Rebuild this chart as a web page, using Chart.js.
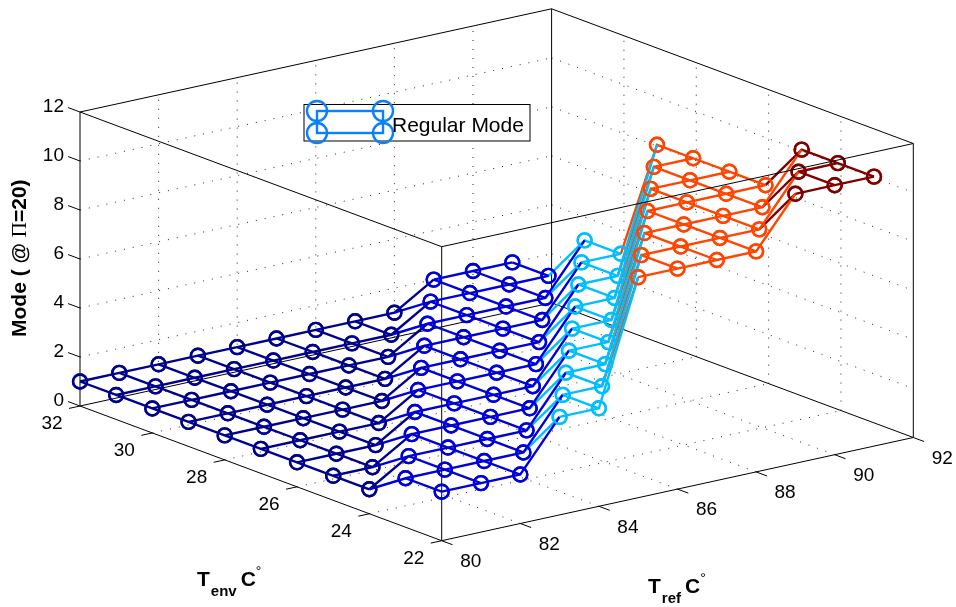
<!DOCTYPE html>
<html>
<head>
<meta charset="utf-8">
<title>Mode</title>
<script src="https://cdn.jsdelivr.net/npm/chart.js@4"></script>
<style>
body { margin: 0; background: #fff; }
canvas { display: block; }
</style>
</head>
<body>
<canvas id="surfaceChart" width="956" height="607"></canvas>
<script>
var trefValues = [80, 81, 82, 83, 84, 85, 86, 87, 88, 89, 90, 91];
var tenvValues = [22, 23, 24, 25, 26, 27, 28, 29, 30, 31, 32];
// one row per tenvValues entry, one column per trefValues entry
var modeRows = [
    [2, 2, 2, 4, 4, 9, 9, 9, 9, 11, 11, 11],
    [2, 2, 2, 2, 4, 4, 9, 9, 9, 9, 11, 11],
    [1, 2, 2, 2, 2, 4, 4, 9, 9, 9, 9, 11],
    [1, 1, 2, 2, 2, 2, 4, 4, 9, 9, 9, 9],
    [1, 1, 1, 2, 2, 2, 2, 4, 4, 9, 9, 9],
    [1, 1, 1, 1, 2, 2, 2, 2, 4, 4, 9, 9],
    [1, 1, 1, 1, 1, 2, 2, 2, 2, 4, 4, 9],
    [1, 1, 1, 1, 1, 1, 2, 2, 2, 2, 4, 4],
    [1, 1, 1, 1, 1, 1, 1, 2, 2, 2, 2, 4],
    [1, 1, 1, 1, 1, 1, 1, 1, 2, 2, 2, 2],
    [1, 1, 1, 1, 1, 1, 1, 1, 1, 2, 2, 2]
];
var trefTicks = [80, 82, 84, 86, 88, 90, 92];
var tenvTicks = [22, 24, 26, 28, 30, 32];
var modeTicks = [0, 2, 4, 6, 8, 10, 12];
var legendLabel = 'Regular Mode';

var modeColors = { 1: '#00008f', 2: '#0000d8', 4: '#00bfff', 9: '#ff4500', 11: '#800000' };
var FONT = '"Liberation Sans", Arial, sans-serif';

// fixed 3d view, same as the view of the original figure
function project(tref, tenv, mode) {
    return {
        x: 441.7 + (tref - 80) * 39.3 - (tenv - 22) * 36.17,
        y: 540.7 - (tref - 80) * 8.6 - (tenv - 22) * 13.47 - mode * 24.5
    };
}

var datasets = [];

function addLine(a, b, color, dash, order) {
    datasets.push({
        data: [project(a[0], a[1], a[2]), project(b[0], b[1], b[2])],
        showLine: true, borderColor: color, borderWidth: 1, borderDash: dash,
        pointRadius: 0, order: order, clip: false
    });
}

var DOTS = [1, 8];
var tref0 = trefTicks[0], tref1 = trefTicks[trefTicks.length - 1];
var tenv0 = tenvTicks[0], tenv1 = tenvTicks[tenvTicks.length - 1];
var mode1 = modeTicks[modeTicks.length - 1];

// dotted grid on floor and the two back walls
trefTicks.slice(1, -1).forEach(function (t) {
    addLine([t, tenv0, 0], [t, tenv1, 0], '#222', DOTS, 900);
    addLine([t, tenv1, 0], [t, tenv1, mode1], '#222', DOTS, 900);
});
tenvTicks.slice(1, -1).forEach(function (t) {
    addLine([tref0, t, 0], [tref1, t, 0], '#222', DOTS, 900);
    addLine([tref1, t, 0], [tref1, t, mode1], '#222', DOTS, 900);
});
modeTicks.slice(1, -1).forEach(function (m) {
    addLine([tref0, tenv1, m], [tref1, tenv1, m], '#222', DOTS, 900);
    addLine([tref1, tenv1, m], [tref1, tenv0, m], '#222', DOTS, 900);
});

// box edges, the two upper front ones go over the mesh
addLine([tref0, tenv0, 0], [tref1, tenv0, 0], '#000', [], 800);
addLine([tref0, tenv0, 0], [tref0, tenv1, 0], '#000', [], 800);
addLine([tref1, tenv1, 0], [tref1, tenv0, 0], '#000', [], 800);
addLine([tref1, tenv1, 0], [tref0, tenv1, 0], '#000', [], 800);
addLine([tref0, tenv1, 0], [tref0, tenv1, mode1], '#000', [], 800);
addLine([tref1, tenv1, 0], [tref1, tenv1, mode1], '#000', [], 800);
addLine([tref1, tenv0, 0], [tref1, tenv0, mode1], '#000', [], 800);
addLine([tref0, tenv0, 0], [tref0, tenv0, mode1], '#000', [], 800);
addLine([tref0, tenv1, mode1], [tref1, tenv1, mode1], '#000', [], 800);
addLine([tref1, tenv1, mode1], [tref1, tenv0, mode1], '#000', [], 800);
addLine([tref0, tenv0, mode1], [tref0, tenv1, mode1], '#000', [], 10);
addLine([tref0, tenv0, mode1], [tref1, tenv0, mode1], '#000', [], 10);

// tick marks
trefTicks.forEach(function (t) {
    addLine([t, tenv0, 0], [t, tenv0 - 0.3, 0], '#000', [], 800);
});
tenvTicks.forEach(function (t) {
    addLine([tref0, t, 0], [tref0 - 0.28, t, 0], '#000', [], 800);
});
modeTicks.forEach(function (m) {
    addLine([tref0, tenv1, m], [tref0, tenv1 + 0.33, m], '#000', [], 800);
});

// each mesh edge takes the colour of its first vertex
function addMeshLine(pts, modes, order) {
    datasets.push({
        data: pts,
        showLine: true, borderWidth: 2.4, borderColor: modeColors[modes[0]],
        segment: {
            borderColor: function (ctx) { return modeColors[modes[ctx.p0DataIndex]]; }
        },
        pointRadius: 7, pointBorderWidth: 2.4,
        pointBackgroundColor: 'rgba(0,0,0,0)',
        pointBorderColor: modes.map(function (m) { return modeColors[m]; }),
        order: order, clip: false
    });
}

tenvValues.forEach(function (tenv, j) {
    var pts = trefValues.map(function (tref, i) { return project(tref, tenv, modeRows[j][i]); });
    addMeshLine(pts, modeRows[j], 200 + j);
});
trefValues.forEach(function (tref, i) {
    var modes = modeRows.map(function (row) { return row[i]; });
    var pts = tenvValues.map(function (tenv, j) { return project(tref, tenv, modes[j]); });
    addMeshLine(pts, modes, 200 + i);
});

function text(ctx, str, x, y, font, align) {
    ctx.font = font;
    ctx.textAlign = align || 'left';
    ctx.fillText(str, x, y);
    return ctx.measureText(str).width;
}

var labelsPlugin = {
    id: 'labels3d',
    afterDatasetsDraw: function (chart) {
        var ctx = chart.ctx;
        var tickFont = '19px ' + FONT;
        ctx.save();
        ctx.fillStyle = '#000';
        ctx.textBaseline = 'middle';
        modeTicks.forEach(function (m) {
            var p = project(tref0, tenv1, m);
            text(ctx, String(m), p.x - 16, p.y - 5, tickFont, 'right');
        });
        tenvTicks.forEach(function (t) {
            var p = project(tref0, t, 0);
            text(ctx, String(t), p.x - 28, p.y + 18, tickFont, 'center');
        });
        trefTicks.forEach(function (t) {
            var p = project(t, tenv0, 0);
            text(ctx, String(t), p.x + 29, p.y + 21, tickFont, 'center');
        });

        ctx.textBaseline = 'alphabetic';
        var bold = 'bold 21px ' + FONT;
        var sub = 'bold 15px ' + FONT;

        var x = 197;
        x += text(ctx, 'T', x, 586, bold);
        x += text(ctx, 'env', x + 1, 596, sub) + 5;
        x += text(ctx, 'C', x, 586, bold);
        text(ctx, '°', x, 576, '14px ' + FONT);

        x = 648;
        x += text(ctx, 'T', x, 593, bold);
        x += text(ctx, 'ref', x + 1, 603, sub) + 5;
        x += text(ctx, 'C', x, 593, bold);
        text(ctx, '°', x, 583, '14px ' + FONT);

        ctx.save();
        ctx.translate(26, 337);
        ctx.rotate(-Math.PI / 2);
        x = 0;
        x += text(ctx, 'Mode ( @ ', x, 0, bold);
        x += text(ctx, 'Π', x, 0, '21px "Liberation Serif", serif');
        x += text(ctx, '=20)', x, 0, bold);
        ctx.restore();

        // legend box
        ctx.fillStyle = '#fff';
        ctx.fillRect(304, 104.5, 226, 36.5);
        ctx.strokeStyle = '#000';
        ctx.lineWidth = 1;
        ctx.strokeRect(304, 104.5, 226, 36.5);
        ctx.strokeStyle = '#0a80ff';
        ctx.lineWidth = 2.4;
        ctx.strokeRect(317, 111, 66, 22);
        [[317, 111], [383, 111], [317, 133], [383, 133]].forEach(function (c) {
            ctx.beginPath();
            ctx.arc(c[0], c[1], 10, 0, Math.PI * 2);
            ctx.stroke();
        });
        ctx.fillStyle = '#000';
        text(ctx, legendLabel, 392, 132, '21px ' + FONT);
        ctx.restore();
    }
};

var chart = new Chart(document.getElementById('surfaceChart'), {
    type: 'scatter',
    data: { datasets: datasets },
    options: {
        responsive: false,
        animation: false,
        layout: { padding: 0, autoPadding: false },
        plugins: { legend: { display: false }, tooltip: { enabled: false } },
        scales: {
            x: { type: 'linear', min: 0, max: 956, display: false },
            y: { type: 'linear', min: 0, max: 607, reverse: true, display: false }
        }
    },
    plugins: [labelsPlugin]
});
</script>
</body>
</html>
